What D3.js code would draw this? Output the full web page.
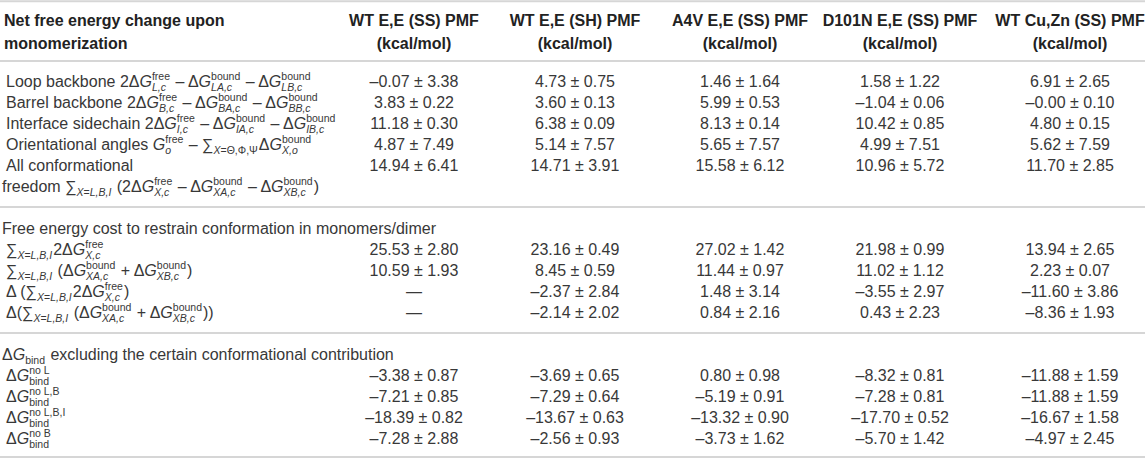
<!DOCTYPE html>
<html>
<head>
<meta charset="utf-8">
<script src="https://cdn.jsdelivr.net/npm/d3@7"></script>
<style>
  body { margin: 0; background: #fff; }
  svg text { font-family: "Liberation Sans", Arial, sans-serif; white-space: pre; }
</style>
</head>
<body>
<svg id="chart" width="1145" height="458"></svg>
<script>
// column headers
const columns = ["WT E,E (SS) PMF", "WT E,E (SH) PMF", "A4V E,E (SS) PMF", "D101N E,E (SS) PMF", "WT Cu,Zn (SS) PMF"];
const unitLabel = "(kcal/mol)";
const headLabel = ["Net free energy change upon", "monomerization"];

// row labels, *x* = italic, ^{..} sup, _{..} sub
const rowLabels = [
  "Loop backbone 2Δ*G*^{free}_{*L,c*} – Δ*G*^{bound}_{*LA,c*} – Δ*G*^{bound}_{*LB,c*}",
  "Barrel backbone 2Δ*G*^{free}_{*B,c*} – Δ*G*^{bound}_{*BA,c*} – Δ*G*^{bound}_{*BB,c*}",
  "Interface sidechain 2Δ*G*^{free}_{*I,c*} – Δ*G*^{bound}_{*IA,c*} – Δ*G*^{bound}_{*IB,c*}",
  "Orientational angles *G*^{free}_{*o*} – ∑_{*X*=Θ,Φ,Ψ}Δ*G*^{bound}_{*X,o*}",
  "All conformational",
  "∑_{*X*=*L,B,I*}2Δ*G*^{free}_{*X,c*}",
  "∑_{*X*=*L,B,I*} (Δ*G*^{bound}_{*XA,c*} + Δ*G*^{bound}_{*XB,c*})",
  "Δ (∑_{*X*=*L,B,I*}2Δ*G*^{free}_{*X,c*})",
  "Δ(∑_{*X*=*L,B,I*} (Δ*G*^{bound}_{*XA,c*} + Δ*G*^{bound}_{*XB,c*}))",
  "Δ*G*^{no L}_{bind}",
  "Δ*G*^{no L,B}_{bind}",
  "Δ*G*^{no L,B,I}_{bind}",
  "Δ*G*^{no B}_{bind}"
];
const extraLine = "freedom ∑_{*X*=*L,B,I*} (2Δ*G*^{free}_{*X,c*} – Δ*G*^{bound}_{*XA,c*} – Δ*G*^{bound}_{*XB,c*})";
const sectionTitles = [
  "Free energy cost to restrain conformation in monomers/dimer",
  "Δ*G*_{bind} excluding the certain conformational contribution"
];

// [mean, sd] per row, null = no value
const wtSS = [[-0.07,3.38],[3.83,0.22],[11.18,0.30],[4.87,7.49],[14.94,6.41],[25.53,2.80],[10.59,1.93],null,null,[-3.38,0.87],[-7.21,0.85],[-18.39,0.82],[-7.28,2.88]];
const wtSH = [[4.73,0.75],[3.60,0.13],[6.38,0.09],[5.14,7.57],[14.71,3.91],[23.16,0.49],[8.45,0.59],[-2.37,2.84],[-2.14,2.02],[-3.69,0.65],[-7.29,0.64],[-13.67,0.63],[-2.56,0.93]];
const a4v = [[1.46,1.64],[5.99,0.53],[8.13,0.14],[5.65,7.57],[15.58,6.12],[27.02,1.42],[11.44,0.97],[1.48,3.14],[0.84,2.16],[0.80,0.98],[-5.19,0.91],[-13.32,0.90],[-3.73,1.62]];
const d101n = [[1.58,1.22],[-1.04,0.06],[10.42,0.85],[4.99,7.51],[10.96,5.72],[21.98,0.99],[11.02,1.12],[-3.55,2.97],[0.43,2.23],[-8.32,0.81],[-7.28,0.81],[-17.70,0.52],[-5.70,1.42]];
const wtCuZn = [[6.91,2.65],[-0.00,0.10],[4.80,0.15],[5.62,7.59],[11.70,2.85],[13.94,2.65],[2.23,0.07],[-11.60,3.86],[-8.36,1.93],[-11.88,1.59],[-11.88,1.59],[-16.67,1.58],[-4.97,2.45]];
const colValues = [wtSS, wtSH, a4v, d101n, wtCuZn];

// which line slot each data row sits on
const rowSlots = [0, 1, 2, 3, 4, 8, 9, 10, 11, 14, 15, 16, 17];
const titleSlots = [7, 13];
const ruleSlots = [-3.8, -0.95, 6, 12, 17.9];

const W = 1145;
const FS = 16, SS = 10.5;
const textCol = "#383838";

const svg = d3.select("#chart");
// column centres
const x = d3.scaleOrdinal().domain(columns).range([414, 575, 740, 900, 1070]);
const y = d3.scaleLinear().domain([0, 17]).range([81, 438]);
const base = c => c + 5.7; // centre -> baseline

const fmt = v => {
  if (!v) return "—";
  const m = v[0];
  const neg = m < 0 || Object.is(m, -0);
  return (neg ? "–" : "") + Math.abs(m).toFixed(2) + " ± " + v[1].toFixed(2);
};

// tiny markup parser
function runs(s) {
  const out = [];
  let it = false;
  s.split("*").forEach((p, i) => {
    if (i > 0) it = !it;
    if (p) out.push({ text: p, italic: it });
  });
  return out;
}
function parse(str) {
  const atoms = [];
  let buf = "", it = false, i = 0;
  const flush = () => { if (buf) atoms.push({ type: "t", text: buf, italic: it }); buf = ""; };
  const group = () => {
    const end = str.indexOf("}", i + 2);
    const g = str.slice(i + 2, end);
    i = end + 1;
    return g;
  };
  while (i < str.length) {
    const ch = str[i];
    if (ch === "*") { flush(); it = !it; i++; continue; }
    if ((ch === "^" || ch === "_") && str[i + 1] === "{") {
      flush();
      const sc = { type: "s", sup: null, sub: null };
      while ((str[i] === "^" || str[i] === "_") && str[i + 1] === "{") {
        const k = str[i] === "^" ? "sup" : "sub";
        if (sc[k]) break;
        sc[k] = runs(group());
      }
      atoms.push(sc);
      continue;
    }
    buf += ch; i++;
  }
  flush();
  return atoms;
}

function rich(g, str, x0, yb, opts = {}) {
  const fs = opts.size || FS;
  const ss = opts.sub || SS;
  let cx = x0;
  const put = (r, xx, yy, size) => {
    const t = g.append("text")
      .attr("x", xx).attr("y", yy)
      .attr("font-size", size)
      .attr("font-weight", opts.bold ? "bold" : null)
      .attr("font-style", r.italic ? "italic" : null)
      .attr("fill", opts.fill || textCol)
      .text(r.text);
    return t.node().getComputedTextLength();
  };
  parse(str).forEach(a => {
    if (a.type === "t") {
      cx += put(a, cx, yb, fs);
    } else {
      let wSup = 0, wSub = 0, xs = cx;
      if (a.sup) a.sup.forEach(r => { wSup += put(r, xs + wSup, yb - fs * 0.4, ss); });
      if (a.sub) a.sub.forEach(r => { wSub += put(r, xs + wSub, yb + fs * 0.24, ss); });
      cx += Math.max(wSup, wSub) + 1;
    }
  });
  return cx;
}

// rules
svg.append("g").selectAll("line")
  .data(ruleSlots)
  .join("line")
  .attr("x1", 0).attr("x2", W)
  .attr("y1", d => y(d)).attr("y2", d => y(d))
  .attr("stroke", "#d6d6d6")
  .attr("stroke-width", 2);

// header
const head = svg.append("g");
const h1 = 20, h2 = 43;
rich(head, headLabel[0], 4, base(h1), { bold: true, fill: "#222" });
rich(head, headLabel[1], 4, base(h2), { bold: true, fill: "#222" });
head.selectAll("text.col")
  .data(columns)
  .join("text")
  .attr("class", "col")
  .attr("x", d => x(d)).attr("y", base(h1))
  .attr("text-anchor", "middle")
  .attr("font-size", FS).attr("font-weight", "bold").attr("fill", "#222")
  .text(d => d);
head.selectAll("text.unit")
  .data(columns)
  .join("text")
  .attr("class", "unit")
  .attr("x", d => x(d)).attr("y", base(h2))
  .attr("text-anchor", "middle")
  .attr("font-size", FS).attr("font-weight", "bold").attr("fill", "#222")
  .text(unitLabel);

// row labels
const labels = svg.append("g");
rowLabels.forEach((s, i) => rich(labels, s, 6, base(y(rowSlots[i]))));
rich(labels, extraLine, 2, base(y(5)));
sectionTitles.forEach((s, i) => rich(labels, s, 2, base(y(titleSlots[i]))));

// values
const body = svg.append("g");
columns.forEach((c, ci) => {
  body.append("g").selectAll("text")
    .data(colValues[ci])
    .join("text")
    .attr("x", x(c))
    .attr("y", (d, i) => base(y(rowSlots[i])))
    .attr("text-anchor", "middle")
    .attr("font-size", FS)
    .attr("fill", textCol)
    .text(fmt);
});
</script>
</body>
</html>
